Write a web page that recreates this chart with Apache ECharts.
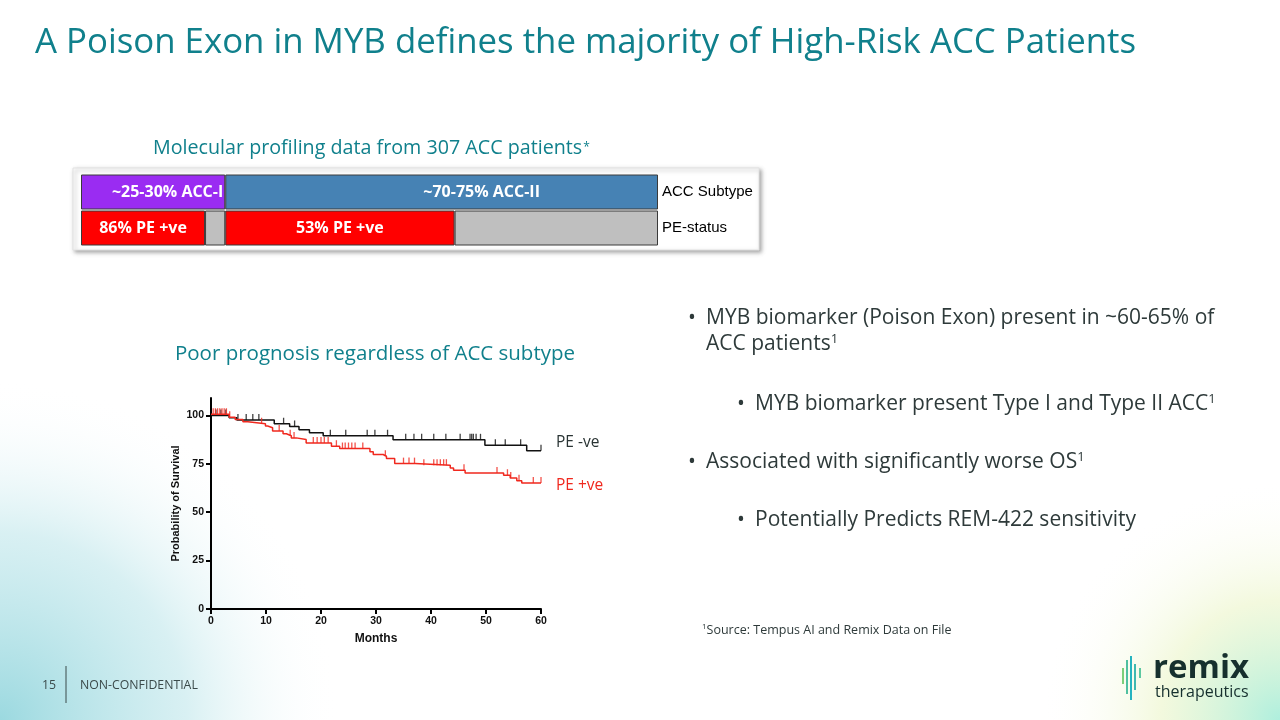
<!DOCTYPE html>
<html>
<head>
<meta charset="utf-8">
<script src="https://cdn.jsdelivr.net/npm/echarts@6.0.0/dist/echarts.min.js"></script>
<style>
  html, body { margin: 0; padding: 0; background: #fff; }
  #main { width: 1280px; height: 720px; }
</style>
</head>
<body>
<div id="main"></div>
<script>
// profiling bar
var rows = ['ACC Subtype', 'PE-status'];
var subtypeShare = [25, 75];          // ACC-I, ACC-II (% of patients)
var peShare = [86, 53];               // % PE +ve within each subtype
var subtypeLabels = ['~25-30% ACC-I', '~70-75% ACC-II'];
var peLabels = ['86% PE +ve', '53% PE +ve'];

// Kaplan-Meier, months / % survival (level after each step)
var negT = [0, 3.3, 4.7, 11.5, 14.3, 16, 17.9, 20.4, 33.1, 49.8, 57.4, 60];
var negS = [100, 98.8, 97.6, 95.7, 94.3, 92.6, 91, 89.5, 87.4, 84.6, 81.8, 81.8];
var posT = [0, 3.3, 4.4, 5.8, 6.7, 9.9, 10.3, 11.2, 13.1, 13.7, 14.6, 15.5, 17.3, 21.9, 23.4, 28.9, 29.5, 31.3, 31.9, 33.4, 37.1, 43.5, 44.1, 46.2, 53.2, 54.4, 55.6, 56.5, 60];
var posS = [100.6, 99.1, 97.9, 96.7, 95.7, 94.5, 93.6, 91.9, 90.5, 89.5, 88.4, 87.6, 85.8, 84.1, 82.9, 81.2, 79.8, 78.9, 77.7, 75.1, 74.3, 72.9, 71.7, 70.3, 69.1, 67.7, 66.3, 65.1, 65.1];
var negCensor = [0.9, 1.8, 2.7, 4.9, 6.4, 7.6, 8.7, 13.2, 15.2, 21.7, 24.5, 28.4, 29.8, 32.1, 35.4, 36.9, 38.3, 40.5, 42.7, 45.3, 47.1, 47.4, 47.7, 48.2, 49.0, 51.7, 53.5, 56.3, 60];
var posCensor = [0.4, 0.8, 1.2, 1.6, 2, 2.4, 2.8, 3.4, 9.2, 12.4, 14.4, 15.1, 18.6, 19.3, 20, 20.6, 21.3, 22.8, 23.9, 24.4, 25, 25.6, 26.2, 27.6, 31.7, 35, 36, 37, 38.7, 40.5, 41.1, 41.7, 42.3, 42.8, 46, 52, 53.9, 54.5, 56, 58.6, 60];
var monthTicks = [0, 10, 20, 30, 40, 50, 60];
var survTicks = [0, 25, 50, 75, 100];

function pairs(t, s) { return t.map(function (v, i) { return [v, s[i]]; }); }
function levelAt(t, s, x) {
  var v = s[0];
  for (var i = 0; i < t.length; i++) { if (t[i] <= x) v = s[i]; }
  return v;
}
function censor(ts, t, s) { return ts.map(function (x) { return [x, levelAt(t, s, x)]; }); }

var pePos = [subtypeShare[0] * peShare[0] / 100, subtypeShare[1] * peShare[1] / 100];
var peNeg = [subtypeShare[0] - pePos[0], subtypeShare[1] - pePos[1]];

var teal = '#10808c';
var txt = '#2e3a3a';
var barBorder = { borderColor: '#3a3a3a', borderWidth: 1 };
var barLabel = { show: true, color: '#fff', fontFamily: 'Open Sans', fontWeight: 'bold', fontSize: 16 };

function richLine(x, y, parts, size) {
  return { type: 'text', x: x, y: y, style: { text: parts, textVerticalAlign: 'middle',
    rich: { t: { fontFamily: 'Open Sans', fontSize: size, fill: txt }, s: { fontFamily: 'Open Sans', fontSize: Math.round(size * 0.62), fill: txt, padding: [0, 0, Math.round(size * 0.45), 0] } } } };
}
function bullet(x, y) {
  return { type: 'text', x: x, y: y, style: { text: '•', font: '21px "Open Sans"', fill: txt, textVerticalAlign: 'middle' } };
}

var chart = echarts.init(document.getElementById('main'));
chart.setOption({
  backgroundColor: '#fff',
  animation: false,
  grid: [
    { left: 81, top: 174, width: 577, height: 72 },
    { left: 211, top: 398, width: 330, height: 211 }
  ],
  xAxis: [
    { gridIndex: 0, type: 'value', min: 0, max: 100, show: false },
    {
      gridIndex: 1, type: 'value', min: 0, max: 60, interval: 10,
      name: 'Months', nameLocation: 'middle', nameGap: 24,
      nameTextStyle: { fontFamily: 'Liberation Sans', fontWeight: 'bold', fontSize: 12, color: '#111' },
      axisLine: { lineStyle: { color: '#000', width: 2 } },
      axisTick: { show: true, length: 5, lineStyle: { color: '#000', width: 2 } },
      axisLabel: { fontFamily: 'Liberation Sans', fontWeight: 'bold', fontSize: 10.5, color: '#111', margin: 7 },
      splitLine: { show: false }
    }
  ],
  yAxis: [
    {
      gridIndex: 0, type: 'category', data: rows, inverse: true, position: 'right',
      axisLine: { show: false }, axisTick: { show: false },
      axisLabel: { color: '#000', fontFamily: 'Liberation Sans', fontSize: 15, margin: 4 }
    },
    {
      gridIndex: 1, type: 'value', min: 0, max: 109,
      name: 'Probability of Survival', nameLocation: 'middle', nameGap: 30,
      nameTextStyle: { fontFamily: 'Liberation Sans', fontWeight: 'bold', fontSize: 11, color: '#111' },
      axisLine: { show: true, lineStyle: { color: '#000', width: 2 } },
      axisTick: { show: true, length: 5, customValues: survTicks, lineStyle: { color: '#000', width: 2 } },
      axisLabel: { customValues: survTicks, fontFamily: 'Liberation Sans', fontWeight: 'bold', fontSize: 10.5, color: '#111', margin: 7 },
      splitLine: { show: false }
    }
  ],
  series: [
    {
      type: 'bar', xAxisIndex: 0, yAxisIndex: 0, stack: 'p', barWidth: 35,
      data: [
        { value: subtypeShare[0], itemStyle: Object.assign({ color: '#9a2cf2' }, barBorder), label: Object.assign({ formatter: subtypeLabels[0], position: 'insideRight', distance: 2 }, barLabel) },
        { value: pePos[0], itemStyle: Object.assign({ color: '#ff0000' }, barBorder), label: Object.assign({ formatter: peLabels[0], position: 'inside' }, barLabel) }
      ]
    },
    {
      type: 'bar', xAxisIndex: 0, yAxisIndex: 0, stack: 'p', barWidth: 35,
      data: [
        { value: 0 },
        { value: peNeg[0], itemStyle: Object.assign({ color: '#bfbfbf' }, barBorder) }
      ]
    },
    {
      type: 'bar', xAxisIndex: 0, yAxisIndex: 0, stack: 'p', barWidth: 35,
      data: [
        { value: subtypeShare[1], itemStyle: Object.assign({ color: '#4682b4' }, barBorder), label: Object.assign({ formatter: subtypeLabels[1], position: 'inside', offset: [40, 0] }, barLabel) },
        { value: pePos[1], itemStyle: Object.assign({ color: '#ff0000' }, barBorder), label: Object.assign({ formatter: peLabels[1], position: 'inside' }, barLabel) }
      ]
    },
    {
      type: 'bar', xAxisIndex: 0, yAxisIndex: 0, stack: 'p', barWidth: 35,
      data: [
        { value: 0 },
        { value: peNeg[1], itemStyle: Object.assign({ color: '#bfbfbf' }, barBorder) }
      ]
    },
    {
      name: 'PE -ve', type: 'line', xAxisIndex: 1, yAxisIndex: 1, step: 'end', showSymbol: false,
      data: pairs(negT, negS), lineStyle: { color: '#111', width: 1.5 }, z: 3
    },
    {
      name: 'PE +ve', type: 'line', xAxisIndex: 1, yAxisIndex: 1, step: 'end', showSymbol: false,
      data: pairs(posT, posS), lineStyle: { color: '#f0281e', width: 1.5 }, z: 4
    },
    {
      type: 'scatter', xAxisIndex: 1, yAxisIndex: 1, symbol: 'rect', symbolSize: [1.3, 6], symbolOffset: [0, -3],
      data: censor(negCensor, negT, negS), itemStyle: { color: '#111' }, z: 3
    },
    {
      type: 'scatter', xAxisIndex: 1, yAxisIndex: 1, symbol: 'rect', symbolSize: [1.3, 6], symbolOffset: [0, -3],
      data: censor(posCensor, posT, posS), itemStyle: { color: '#f0281e' }, z: 4
    }
  ],
  graphic: [
    // background washes
    { type: 'rect', z: -100, silent: true, shape: { x: 0, y: 0, width: 1280, height: 720 },
      style: { fill: { type: 'radial', x: 0, y: 720, r: 340, global: true,
        colorStops: [{ offset: 0, color: 'rgba(150,215,222,0.95)' }, { offset: 0.55, color: 'rgba(185,228,233,0.55)' }, { offset: 1, color: 'rgba(255,255,255,0)' }] } } },
    { type: 'rect', z: -99, silent: true, shape: { x: 0, y: 0, width: 1280, height: 720 },
      style: { fill: { type: 'radial', x: 1280, y: 720, r: 240, global: true,
        colorStops: [{ offset: 0, color: 'rgba(170,238,220,0.95)' }, { offset: 0.5, color: 'rgba(235,245,200,0.6)' }, { offset: 1, color: 'rgba(255,255,255,0)' }] } } },
    // frame of the profiling figure
    { type: 'rect', z: -50, silent: true, shape: { x: 73, y: 168, width: 686, height: 82 },
      style: { fill: '#fff', stroke: '#e2e2e2', lineWidth: 1, shadowBlur: 4, shadowOffsetX: 2, shadowOffsetY: 2, shadowColor: 'rgba(0,0,0,0.35)' } },
    { type: 'text', x: 35, y: 43, style: { text: 'A Poison Exon in MYB defines the majority of High-Risk ACC Patients', font: '34.8px "Open Sans"', fill: teal, textVerticalAlign: 'middle' } },
    { type: 'text', x: 153, y: 148, style: { text: '{m|Molecular profiling data from 307 ACC patients}{a|*}', textVerticalAlign: 'middle',
      rich: { m: { fontFamily: 'Open Sans', fontSize: 19.7, fill: teal }, a: { fontFamily: 'Open Sans', fontSize: 12, fill: teal, padding: [0, 0, 0, 1] } } } },
    { type: 'text', x: 375, y: 354, style: { text: 'Poor prognosis regardless of ACC subtype', font: '20.5px "Open Sans"', fill: teal, textAlign: 'center', textVerticalAlign: 'middle' } },
    { type: 'text', x: 556, y: 443, style: { text: 'PE -ve', font: '15.5px "Open Sans"', fill: '#2a3434', textVerticalAlign: 'middle' } },
    { type: 'text', x: 556, y: 486, style: { text: 'PE +ve', font: '15.5px "Open Sans"', fill: '#f0281e', textVerticalAlign: 'middle' } },
    // bullets
    bullet(688, 318),
    richLine(706, 318, '{t|MYB biomarker (Poison Exon) present in ~60-65% of}', 21),
    richLine(706, 344, '{t|ACC patients}{s|1}', 21),
    bullet(737, 404),
    richLine(755, 404, '{t|MYB biomarker present Type I and Type II ACC}{s|1}', 21),
    bullet(688, 462),
    richLine(706, 462, '{t|Associated with significantly worse OS}{s|1}', 21),
    bullet(737, 520),
    richLine(755, 520, '{t|Potentially Predicts REM-422 sensitivity}', 21),
    richLine(702, 630, '{s|1}{t|Source: Tempus AI and Remix Data on File}', 12.5),
    // footer
    { type: 'text', x: 42, y: 685, style: { text: '15', font: '12.3px "Open Sans"', fill: '#3b4a4a', textVerticalAlign: 'middle' } },
    { type: 'line', shape: { x1: 66, y1: 666, x2: 66, y2: 703 }, style: { stroke: '#3b4a4a', lineWidth: 1 } },
    { type: 'text', x: 80, y: 685, style: { text: 'NON-CONFIDENTIAL', font: '12.3px "Open Sans"', fill: '#3b4a4a', textVerticalAlign: 'middle' } },
    // logo
    { type: 'line', shape: { x1: 1123, y1: 668, x2: 1123, y2: 684 }, style: { stroke: '#7ccf7a', lineWidth: 2 } },
    { type: 'line', shape: { x1: 1127, y1: 660, x2: 1127, y2: 694 }, style: { stroke: '#4fc0a0', lineWidth: 2 } },
    { type: 'line', shape: { x1: 1131, y1: 656, x2: 1131, y2: 700 }, style: { stroke: '#26b3c0', lineWidth: 2 } },
    { type: 'line', shape: { x1: 1135, y1: 664, x2: 1135, y2: 690 }, style: { stroke: '#3fb8b0', lineWidth: 2 } },
    { type: 'line', shape: { x1: 1140, y1: 668, x2: 1140, y2: 678 }, style: { stroke: '#5cc8a0', lineWidth: 2 } },
    { type: 'text', x: 1153, y: 669, style: { text: 'remix', font: 'bold 33px "Open Sans"', fill: '#16302e', textVerticalAlign: 'middle' } },
    { type: 'text', x: 1155, y: 692, style: { text: 'therapeutics', font: '16px "Open Sans"', fill: '#16302e', textVerticalAlign: 'middle' } }
  ]
});
</script>
</body>
</html>
